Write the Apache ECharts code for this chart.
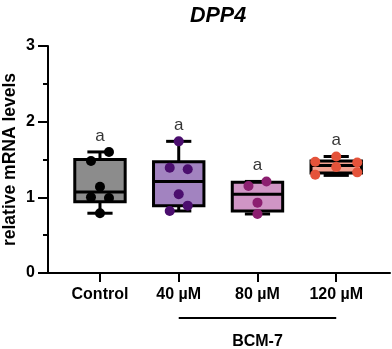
<!DOCTYPE html>
<html>
<head>
<meta charset="utf-8">
<script src="https://cdn.jsdelivr.net/npm/echarts@6/dist/echarts.min.js"></script>
<style>
  html, body { margin: 0; padding: 0; background: #fff; }
  #chart { width: 392px; height: 349px; }
</style>
</head>
<body>
<div id="chart"></div>
<script>
// groups on the x axis
const groups = ['Control', '40 µM', '80 µM', '120 µM']

// individual points per group (relative mRNA levels)
const controlVals = [1.48, 1.60, 1.14, 1.00, 0.99, 0.79]
const bcm40Vals = [1.74, 1.39, 1.37, 1.04, 0.82, 0.89]
const bcm80Vals = [1.15, 1.21, 0.93, 0.78]
const bcm120Vals = [1.54, 1.47, 1.46, 1.40, 1.30, 1.33]

// box stats: min, q1, median, q3, max
const controlBox = [0.79, 0.94, 1.07, 1.50, 1.60]
const bcm40Box = [0.82, 0.89, 1.21, 1.47, 1.74]
const bcm80Box = [0.78, 0.82, 1.04, 1.20, 1.21]
const bcm120Box = [1.29, 1.32, 1.42, 1.48, 1.54]

const sigLetters = ['a', 'a', 'a', 'a']

const allVals = [controlVals, bcm40Vals, bcm80Vals, bcm120Vals]
const allBoxes = [controlBox, bcm40Box, bcm80Box, bcm120Box]
const fills = ['#8c8c8c', '#a283c0', '#d095c5', '#f4a291']
const dotColors = ['#000000', '#4b0e6e', '#8c1f70', '#e5533a']

const FONT = 'Liberation Sans, Arial, Helvetica, sans-serif'

// spread points that sit at nearly the same height (prism-like dot plot)
function spread(vals) {
  const order = vals.map((v, i) => i).sort((a, b) => vals[b] - vals[a])
  const offsets = new Array(vals.length).fill(0)
  let i = 0
  while (i < order.length) {
    const grp = [order[i]]
    let j = i + 1
    while (j < order.length && vals[order[i]] - vals[order[j]] < 0.132) {
      grp.push(order[j]); j++
    }
    grp.sort((a, b) => a - b)
    const pattern = grp.length === 2 ? [-9, 9] : grp.length === 3 ? [0, -21, 21] : [0]
    grp.forEach((idx, k) => { offsets[idx] = pattern[k] || 0 })
    i = j
  }
  return offsets
}

const chart = echarts.init(document.getElementById('chart'))

const boxSeries = {
  type: 'custom',
  xAxisIndex: 0,
  yAxisIndex: 0,
  z: 2,
  data: allBoxes.map((b, i) => [i].concat(b)),
  encode: { x: 0, y: [1, 2, 3, 4, 5] },
  renderItem: (params, api) => {
    const i = api.value(0)
    const band = api.size([1, 0])[0]
    const hw = band * 0.32
    const cw = band * 0.16
    const pt = k => api.coord([i, api.value(k)])
    const pMin = pt(1), pQ1 = pt(2), pMed = pt(3), pQ3 = pt(4), pMax = pt(5)
    const x = pMed[0]
    const ln = { stroke: '#000', lineWidth: 3 }
    return {
      type: 'group',
      children: [
        { type: 'line', shape: { x1: x, y1: pQ3[1], x2: x, y2: pMax[1] }, style: ln },
        { type: 'line', shape: { x1: x, y1: pQ1[1], x2: x, y2: pMin[1] }, style: ln },
        { type: 'line', shape: { x1: x - cw, y1: pMax[1], x2: x + cw, y2: pMax[1] }, style: ln },
        { type: 'line', shape: { x1: x - cw, y1: pMin[1], x2: x + cw, y2: pMin[1] }, style: ln },
        { type: 'rect', shape: { x: x - hw, y: pQ3[1], width: hw * 2, height: pQ1[1] - pQ3[1] },
          style: { fill: fills[i], stroke: '#000', lineWidth: 3 } },
        { type: 'line', shape: { x1: x - hw, y1: pMed[1], x2: x + hw, y2: pMed[1] }, style: ln }
      ]
    }
  }
}

const dotSeries = allVals.map((vals, g) => {
  const offs = spread(vals)
  return {
    type: 'scatter',
    xAxisIndex: 0,
    yAxisIndex: 0,
    z: 3,
    symbolSize: 10,
    itemStyle: { color: dotColors[g], opacity: 1 },
    data: vals.map((v, k) => ({ value: [g, v], symbolOffset: [offs[k], 0] }))
  }
})

const letterSeries = {
  type: 'scatter',
  xAxisIndex: 0,
  yAxisIndex: 0,
  z: 4,
  symbolSize: 1,
  silent: true,
  itemStyle: { color: 'rgba(0,0,0,0)' },
  data: allBoxes.map((b, i) => [i, b[4]]),
  label: {
    show: true,
    position: 'top',
    distance: 7,
    formatter: p => sigLetters[p.dataIndex],
    fontFamily: FONT,
    fontSize: 17,
    color: '#000'
  }
}

const gridTop = 46
const gridBottom = 76

const option = {
  animation: false,
  title: {
    text: 'DPP4',
    left: 213,
    top: 0,
    textAlign: 'center',
    textStyle: { fontFamily: FONT, fontSize: 21.5, fontWeight: 'bold', fontStyle: 'italic', color: '#000' }
  },
  grid: [
    { left: 60.6, width: 315, top: gridTop, bottom: gridBottom, outerBoundsMode: 'none', containLabel: false },
    { left: 48, right: 2, top: gridTop, bottom: gridBottom, outerBoundsMode: 'none', containLabel: false }
  ],
  xAxis: [
    {
      type: 'category',
      gridIndex: 0,
      data: groups,
      boundaryGap: true,
      axisLine: { show: false },
      axisTick: { show: true, alignWithLabel: true, length: 9, lineStyle: { color: '#000', width: 2 } },
      axisLabel: { margin: 14, fontFamily: FONT, fontSize: 16, fontWeight: 'bold', color: '#000' },
      splitLine: { show: false }
    },
    {
      type: 'value',
      gridIndex: 1,
      min: 0,
      max: 1,
      axisLine: { show: true, lineStyle: { color: '#000', width: 2 } },
      axisTick: { show: false },
      axisLabel: { show: false },
      splitLine: { show: false }
    }
  ],
  yAxis: [
    { type: 'value', gridIndex: 0, min: 0, max: 3, interval: 1, show: false },
    {
      type: 'value',
      gridIndex: 1,
      min: 0,
      max: 3,
      interval: 1,
      name: 'relative mRNA levels',
      nameLocation: 'middle',
      nameGap: 29,
      nameMoveOverlap: false,
      nameTextStyle: { fontFamily: FONT, fontSize: 17.5, fontWeight: 'bold', color: '#000' },
      axisLine: { show: true, lineStyle: { color: '#000', width: 2 } },
      axisTick: { show: true, length: 10, lineStyle: { color: '#000', width: 2 } },
      minorTick: { show: true, splitNumber: 2, length: 5, lineStyle: { color: '#000', width: 2 } },
      axisLabel: { margin: 13, fontFamily: FONT, fontSize: 16, fontWeight: 'bold', color: '#000' },
      splitLine: { show: false }
    }
  ],
  series: [boxSeries].concat(dotSeries, [letterSeries])
}

chart.setOption(option)

// BCM-7 bracket under the treated groups
const p1 = chart.convertToPixel({ xAxisIndex: 0 }, 1)
const p3 = chart.convertToPixel({ xAxisIndex: 0 }, 3)
chart.setOption({
  graphic: [
    { type: 'line', shape: { x1: p1, y1: 318, x2: p3, y2: 318 }, style: { stroke: '#000', lineWidth: 2 } },
    { type: 'text', x: (p1 + p3) / 2, y: 342, style: { text: 'BCM-7', align: 'center', verticalAlign: 'middle',
      font: 'bold 16px ' + FONT, fill: '#000' } }
  ]
})
</script>
</body>
</html>
